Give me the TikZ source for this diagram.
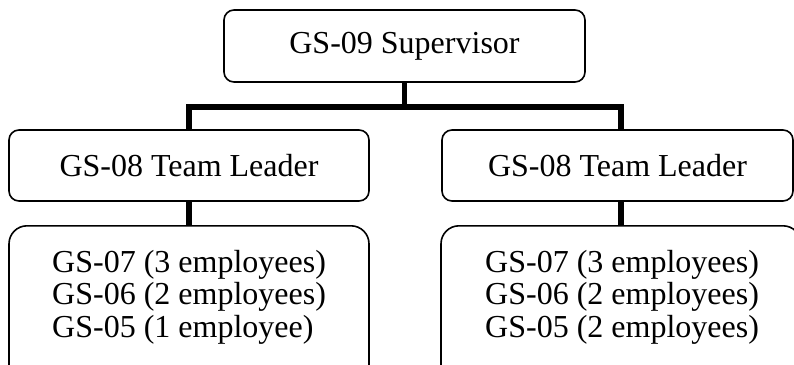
\documentclass[tikz,border=0pt]{standalone}
\usepackage{fontspec}
\setmainfont{Liberation Serif}
\begin{document}
\begin{tikzpicture}[x=1pt,y=-1pt,
  lbl/.style={font=\fontsize{32}{32}\selectfont},
  box/.style={lbl,draw,line width=1.6pt,rounded corners=10pt,inner sep=0pt},
  bigbox/.style={draw,line width=1.6pt,rounded corners=18pt,inner sep=0pt,minimum width=360pt,minimum height=160pt,anchor=north},
  list/.style={lbl,align=left,anchor=north west,inner sep=0pt},
  link/.style={line width=5.5pt}]
\useasboundingbox (0,0) rectangle (794,364);
\clip (0,0) rectangle (794,364);
% boxes
\node[box,minimum width=361pt,minimum height=72pt] (sup) at (404.5,46) {GS-09 Supervisor};
\node[box,minimum width=360pt,minimum height=71pt] (tl1) at (189,165.5) {GS-08 Team Leader};
\node[box,minimum width=351pt,minimum height=71pt] (tl2) at (617.5,165.5) {GS-08 Team Leader};
\node[bigbox] (b1) at (189,225) {};
\node[bigbox] (b2) at (621,225) {};
\node[list] (e1) at (52,250) {GS-07 (3 employees)\\[0.5pt]GS-06 (2 employees)\\[0.5pt]GS-05 (1 employee)};
\node[list] (e2) at (485,250) {GS-07 (3 employees)\\[0.5pt]GS-06 (2 employees)\\[0.5pt]GS-05 (2 employees)};
% connectors
\draw[link] (sup.south) -- ++(0,24) -| (tl1.north);
\draw[link] (sup.south) ++(0,24) -| (b2.north |- tl2.north);
\draw[link] (tl1.south) -- (b1.north);
\draw[link] (b2.north |- tl2.south) -- (b2.north);
\end{tikzpicture}
\end{document}
